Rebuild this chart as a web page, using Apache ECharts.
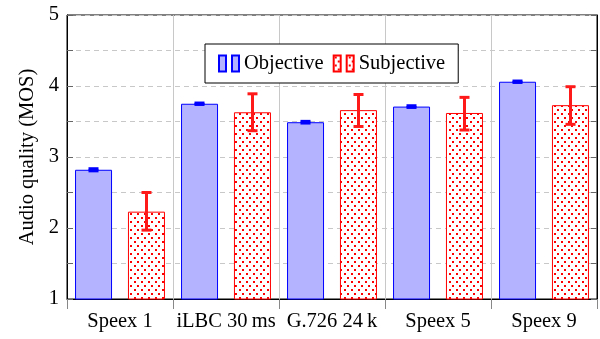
<!DOCTYPE html>
<html>
<head>
<meta charset="utf-8">
<script src="https://cdn.jsdelivr.net/npm/echarts@6/dist/echarts.min.js"></script>
<style>
html,body{margin:0;padding:0;background:#fff;}
#main{width:600px;height:339px;}
</style>
</head>
<body>
<div id="main"></div>
<script>
var categories = ['Speex 1', 'iLBC 30\u2009ms', 'G.726 24\u2009k', 'Speex 5', 'Speex 9'];
var objective = [2.82, 3.75, 3.49, 3.71, 4.06];
var objectiveErr = [0.015, 0.01, 0.012, 0.012, 0.01];
var subjective = [2.23, 3.63, 3.66, 3.62, 3.73];
var subjectiveLow = [1.97, 3.37, 3.43, 3.38, 3.46];
var subjectiveHigh = [2.50, 3.89, 3.88, 3.84, 3.99];

var FONT = 'Liberation Serif';
var FS = 20.5;

// dotted pattern for the subjective bars
function dotPattern() {
    var c = document.createElement('canvas');
    c.width = 7; c.height = 8;
    var ctx = c.getContext('2d');
    ctx.fillStyle = '#fff';
    ctx.fillRect(0, 0, 7, 8);
    ctx.fillStyle = '#ff0000';
    ctx.fillRect(1, 1, 2, 2);
    ctx.fillRect(4, 5, 2, 2);
    return c;
}

function errorItem(color, side) {
    return function (params, api) {
        var band = api.size([1, 0])[0];
        var lo = api.coord([api.value(0), api.value(1)]);
        var hi = api.coord([api.value(0), api.value(2)]);
        var x = lo[0] + side * band * 0.25;
        var half = 5;
        var style = {stroke: color, lineWidth: 3};
        return {
            type: 'group',
            children: [
                {type: 'line', shape: {x1: x, y1: lo[1], x2: x, y2: hi[1]}, style: style},
                {type: 'line', shape: {x1: x - half, y1: lo[1], x2: x + half, y2: lo[1]}, style: style},
                {type: 'line', shape: {x1: x - half, y1: hi[1], x2: x + half, y2: hi[1]}, style: style}
            ]
        };
    };
}

var objErrData = objective.map(function (v, i) { return [i, v - objectiveErr[i], v + objectiveErr[i]]; });
var subErrData = subjective.map(function (v, i) { return [i, subjectiveLow[i], subjectiveHigh[i]]; });

var chart = echarts.init(document.getElementById('main'));

var option = {
    animation: false,
    backgroundColor: '#ffffff',
    grid: {
        left: 67, right: 3, top: 15, bottom: 40,
        show: true, borderColor: '#000', borderWidth: 1
    },
    legend: {
        data: ['Objective', 'Subjective'],
        left: 205, top: 44,
        padding: [9, 13],
        itemGap: 9,
        itemWidth: 20, itemHeight: 16,
        icon: 'path://M0,0h7v16h-7z M13,0h7v16h-7z',
        backgroundColor: '#fff',
        borderColor: '#000', borderWidth: 1, borderRadius: 0,
        textStyle: {fontFamily: FONT, fontSize: FS, color: '#000'}
    },
    xAxis: {
        type: 'category',
        data: categories,
        axisLine: {lineStyle: {color: '#000', width: 1}},
        axisTick: {show: true, inside: false, length: 10, interval: 0, lineStyle: {color: '#888'}},
        axisLabel: {fontFamily: FONT, fontSize: FS, color: '#000', margin: 12, interval: 0},
        splitLine: {show: true, interval: 0, lineStyle: {color: '#c8c8c8', width: 1}}
    },
    yAxis: [{
        type: 'value',
        min: 1, max: 5, interval: 0.5,
        name: 'Audio quality (MOS)',
        nameLocation: 'middle',
        nameGap: 27,
        nameTextStyle: {fontFamily: FONT, fontSize: FS, color: '#000'},
        axisLine: {show: true, lineStyle: {color: '#000'}},
        axisTick: {show: true, inside: true, length: 6, lineStyle: {color: '#666'}},
        axisLabel: {
            fontFamily: FONT, fontSize: FS, color: '#000', margin: 8,
            formatter: function (v) { return v % 1 === 0 ? String(v) : ''; }
        },
        splitLine: {show: true, lineStyle: {color: '#c8c8c8', type: [5, 4], width: 1}}
    }, {
        type: 'value',
        position: 'right',
        min: 1, max: 5, interval: 0.5,
        axisLine: {show: true, lineStyle: {color: '#000'}},
        axisTick: {show: true, inside: true, length: 6, lineStyle: {color: '#666'}},
        axisLabel: {show: false},
        splitLine: {show: false}
    }],
    series: [
        {
            name: 'Objective',
            type: 'bar',
            data: objective,
            barWidth: 37,
            barGap: '43%',
            itemStyle: {color: '#b3b3ff', borderColor: '#0000ff', borderWidth: 1}
        },
        {
            name: 'Subjective',
            type: 'bar',
            data: subjective,
            barWidth: 37,
            barGap: '43%',
            itemStyle: {color: {image: dotPattern(), repeat: 'repeat'}, borderColor: '#ff0000', borderWidth: 1}
        },
        {
            type: 'custom',
            name: 'objErr',
            data: objErrData,
            encode: {x: 0, y: [1, 2]},
            renderItem: errorItem('#0000ff', -1),
            z: 5
        },
        {
            type: 'custom',
            name: 'subErr',
            data: subErrData,
            encode: {x: 0, y: [1, 2]},
            renderItem: errorItem('#ff1a1a', 1),
            z: 5
        }
    ]
};

chart.setOption(option);
</script>
</body>
</html>
